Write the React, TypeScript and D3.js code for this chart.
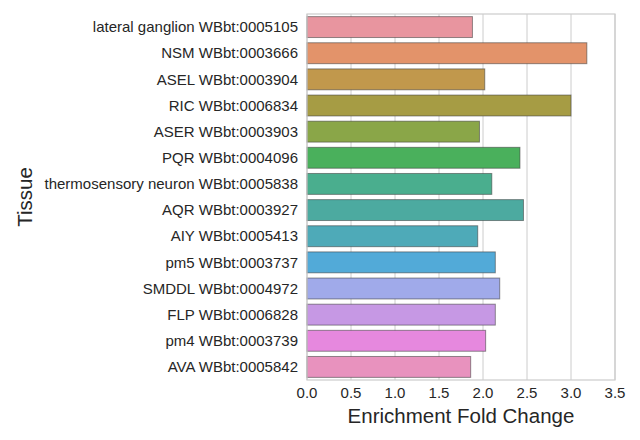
import * as d3 from "d3";
import React, { useEffect, useRef } from "react";

const tissues = [
	"lateral ganglion WBbt:0005105",
	"NSM WBbt:0003666",
	"ASEL WBbt:0003904",
	"RIC WBbt:0006834",
	"ASER WBbt:0003903",
	"PQR WBbt:0004096",
	"thermosensory neuron WBbt:0005838",
	"AQR WBbt:0003927",
	"AIY WBbt:0005413",
	"pm5 WBbt:0003737",
	"SMDDL WBbt:0004972",
	"FLP WBbt:0006828",
	"pm4 WBbt:0003739",
	"AVA WBbt:0005842",
];

const foldChange = [1.88, 3.18, 2.02, 3.0, 1.96, 2.42, 2.1, 2.46, 1.94, 2.14, 2.19, 2.14, 2.03, 1.86];

const barColors = [
	"#e8959f", "#e3936a", "#c1984c", "#a69c44", "#8aa648", "#4ab05c", "#4aae8e",
	"#4caaa0", "#4eaab8", "#52aad8", "#a0aaea", "#c698e4", "#e688de", "#e892be",
];

const xTicks = [0, 0.5, 1, 1.5, 2, 2.5, 3, 3.5];

const width = 640;
const height = 440;
const margin = { top: 14, right: 25, bottom: 60, left: 307 };
const font = "'Liberation Sans', Arial, sans-serif";

const App: React.FC = () => {
	const svgRef = useRef<SVGSVGElement>(null);

	useEffect(() => {
		if (!svgRef.current) return;
		const svg = d3.select(svgRef.current);
		svg.selectAll("*").remove();

		const x = d3.scaleLinear().domain([0, 3.5]).range([margin.left, width - margin.right]);
		const y = d3.scaleBand<string>().domain(tissues).range([margin.top, height - margin.bottom]).paddingInner(0.2).paddingOuter(0.1);

		// grid
		svg.append("g")
			.selectAll("line")
			.data(xTicks)
			.enter().append("line")
			.attr("x1", d => x(d))
			.attr("x2", d => x(d))
			.attr("y1", margin.top)
			.attr("y2", height - margin.bottom)
			.style("stroke", "#cccccc")
			.style("stroke-width", 1);

		// bars
		svg.append("g")
			.selectAll("rect")
			.data(tissues)
			.enter().append("rect")
			.attr("x", x(0))
			.attr("y", d => y(d) as number)
			.attr("width", (d, i) => x(foldChange[i]) - x(0))
			.attr("height", y.bandwidth())
			.style("fill", (d, i) => barColors[i])
			.style("stroke", "rgba(60,60,60,0.55)")
			.style("stroke-width", 1);

		// frame
		svg.append("rect")
			.attr("x", margin.left)
			.attr("y", margin.top)
			.attr("width", width - margin.left - margin.right)
			.attr("height", height - margin.top - margin.bottom)
			.style("fill", "none")
			.style("stroke", "#cccccc")
			.style("stroke-width", 1.2);

		// x tick labels
		svg.append("g")
			.selectAll("text")
			.data(xTicks)
			.enter().append("text")
			.attr("x", d => x(d))
			.attr("y", height - margin.bottom + 18)
			.style("text-anchor", "middle")
			.style("font-family", font)
			.style("font-size", "15px")
			.style("fill", "#262626")
			.text(d => d.toFixed(1));

		// y tick labels
		svg.append("g")
			.selectAll("text")
			.data(tissues)
			.enter().append("text")
			.attr("x", margin.left - 9)
			.attr("y", d => (y(d) as number) + y.bandwidth() / 2)
			.attr("dy", "0.35em")
			.style("text-anchor", "end")
			.style("font-family", font)
			.style("font-size", "15px")
			.style("fill", "#262626")
			.text(d => d);

		svg.append("text")
			.attr("x", (margin.left + width - margin.right) / 2)
			.attr("y", height - 17)
			.style("text-anchor", "middle")
			.style("font-family", font)
			.style("font-size", "20.5px")
			.style("fill", "#262626")
			.text("Enrichment Fold Change");

		svg.append("text")
			.attr("transform", `translate(32, ${(margin.top + height - margin.bottom) / 2}) rotate(-90)`)
			.style("text-anchor", "middle")
			.style("font-family", font)
			.style("font-size", "20.5px")
			.style("fill", "#262626")
			.text("Tissue");
	}, []);

	return (
		<svg ref={svgRef} width={width} height={height}
			style={{ position: "absolute", left: 0, top: 0, background: "#ffffff" }} />
	);
};

export default App;
